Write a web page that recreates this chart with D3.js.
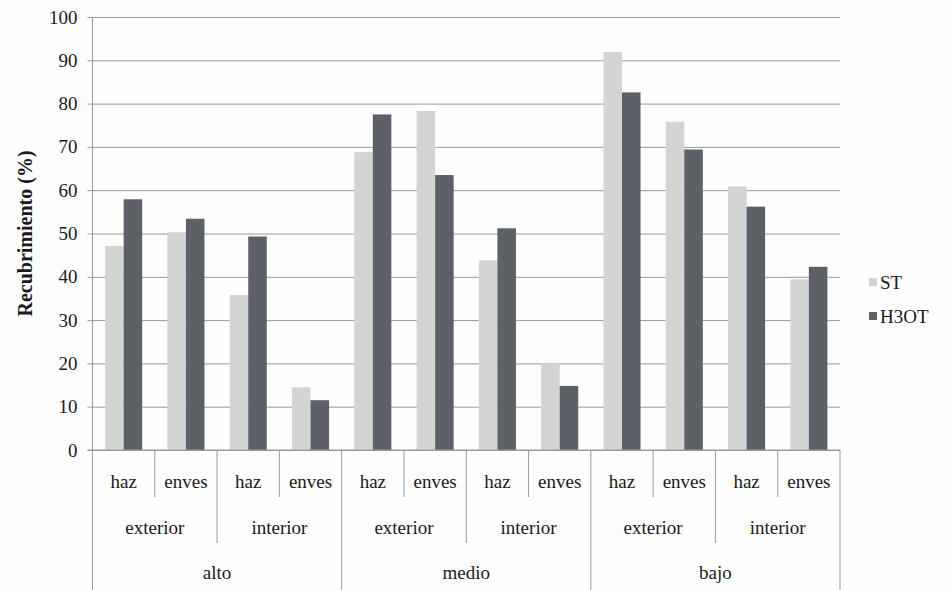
<!DOCTYPE html>
<html>
<head>
<meta charset="utf-8">
<script src="https://cdn.jsdelivr.net/npm/d3@7"></script>
<style>
  body { margin: 0; background: #fdfdfd; }
  svg text { font-family: 'Liberation Serif', 'Times New Roman', Times, 'DejaVu Serif', serif; fill: #1a1a1a; }
</style>
</head>
<body>
<div id="chart"></div>
<script>
// categories (three levels) and series values
const levels = ['alto', 'medio', 'bajo'];
const positions = ['exterior', 'interior'];
const faces = ['haz', 'enves'];
const seriesNames = ['ST', 'H3OT'];
const stValues = [47.1, 50.3, 35.8, 14.5, 68.8, 78.3, 43.8, 20.0, 91.9, 75.8, 60.9, 39.4];
const h3otValues = [57.9, 53.4, 49.3, 11.5, 77.5, 63.5, 51.2, 14.8, 82.6, 69.4, 56.2, 42.3];
const yTicks = [0, 10, 20, 30, 40, 50, 60, 70, 80, 90, 100];

const width = 951;
const height = 590;
const margin = { top: 17, right: 111, bottom: 140, left: 92.5 };
const plotW = width - margin.left - margin.right;
const plotH = height - margin.top - margin.bottom;
const colors = { ST: '#d3d5d5', H3OT: '#5e6067' };
const lineColor = '#9a9a9a';

// flatten leaf categories
const leaves = [];
levels.forEach(l => positions.forEach(p => faces.forEach(f => {
  leaves.push({ level: l, pos: p, face: f, key: `${l}|${p}|${f}` });
})));
leaves.forEach((d, i) => { d.ST = stValues[i]; d.H3OT = h3otValues[i]; });

const svg = d3.select('#chart').append('svg')
  .attr('width', width)
  .attr('height', height);

const g = svg.append('g').attr('transform', `translate(${margin.left},${margin.top})`);

const x = d3.scaleBand().domain(leaves.map(d => d.key)).range([0, plotW]).padding(0);
const xSub = d3.scaleBand().domain(seriesNames).range([0, x.bandwidth()])
  .paddingInner(0).paddingOuter(0.68);
const y = d3.scaleLinear().domain([0, 100]).range([plotH, 0]);

// gridlines + y labels
const yAxis = g.append('g')
  .call(d3.axisLeft(y).tickValues(yTicks).tickSize(-plotW).tickPadding(15));
yAxis.attr('font-family', null).attr('font-size', 19);
yAxis.select('.domain').remove();
yAxis.selectAll('.tick line')
  .attr('x1', -5)
  .attr('stroke', lineColor)
  .attr('stroke-width', 1);
yAxis.selectAll('.tick text')
  .attr('fill', '#1a1a1a');

// bars
const groups = g.selectAll('.cat').data(leaves).enter().append('g')
  .attr('transform', d => `translate(${x(d.key)},0)`);
groups.selectAll('rect')
  .data(d => seriesNames.map(s => ({ s, v: d[s] })))
  .enter().append('rect')
  .attr('x', d => xSub(d.s))
  .attr('y', d => y(d.v))
  .attr('width', xSub.bandwidth())
  .attr('height', d => plotH - y(d.v))
  .attr('fill', d => colors[d.s]);

// left axis line (extends down through category area)
g.append('line')
  .attr('x1', 0).attr('x2', 0)
  .attr('y1', 0).attr('y2', height - margin.top)
  .attr('stroke', lineColor);
// baseline
g.append('line')
  .attr('x1', -5).attr('x2', plotW)
  .attr('y1', plotH).attr('y2', plotH)
  .attr('stroke', lineColor);

// multi-level category axis
const rowBottom = [plotH + 47, plotH + 93, height - margin.top];
const rowText = [plotH + 38, plotH + 84, plotH + 129];
const step = x.step();
const cat = g.append('g').attr('font-size', 19);

leaves.forEach((d, i) => {
  const x0 = x(d.key);
  let depth = 0;
  if (i % 4 === 0) depth = 2;
  else if (i % 2 === 0) depth = 1;
  cat.append('line')
    .attr('x1', x0).attr('x2', x0)
    .attr('y1', plotH).attr('y2', rowBottom[depth])
    .attr('stroke', lineColor);
  cat.append('text')
    .attr('x', x0 + step / 2)
    .attr('y', rowText[0])
    .attr('text-anchor', 'middle')
    .text(d.face);
});
cat.append('line')
  .attr('x1', plotW).attr('x2', plotW)
  .attr('y1', plotH).attr('y2', rowBottom[2])
  .attr('stroke', lineColor);

levels.forEach(l => {
  positions.forEach(p => {
    const first = x(`${l}|${p}|${faces[0]}`);
    cat.append('text')
      .attr('x', first + step)
      .attr('y', rowText[1])
      .attr('text-anchor', 'middle')
      .text(p);
  });
  const first = x(`${l}|${positions[0]}|${faces[0]}`);
  cat.append('text')
    .attr('x', first + step * 2)
    .attr('y', rowText[2])
    .attr('text-anchor', 'middle')
    .text(l);
});

// y axis title
svg.append('text')
  .attr('transform', `translate(32,${margin.top + plotH / 2}) rotate(-90)`)
  .attr('text-anchor', 'middle')
  .attr('font-size', 20)
  .attr('font-weight', 'bold')
  .text('Recubrimiento (%)');

// legend
const legend = svg.append('g').attr('transform', 'translate(869,278)').attr('font-size', 19);
seriesNames.forEach((s, i) => {
  const row = legend.append('g').attr('transform', `translate(0,${i * 34})`);
  row.append('rect')
    .attr('width', 8).attr('height', 8)
    .attr('fill', colors[s]);
  row.append('text')
    .attr('x', 11).attr('y', 11)
    .text(s);
});
</script>
</body>
</html>
